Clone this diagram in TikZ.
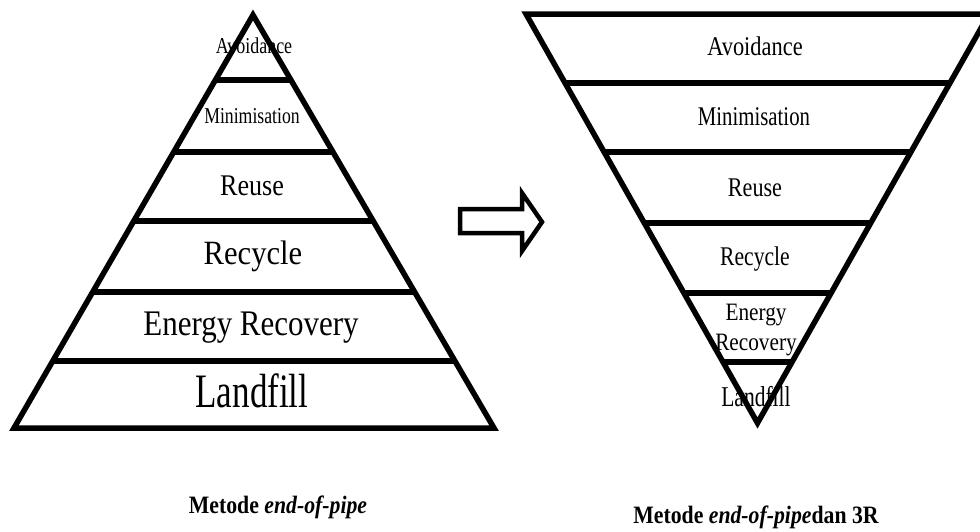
\documentclass[tikz,border=0pt]{standalone}
\usepackage{fontspec}
\setmainfont{Liberation Serif}
\usepackage{graphicx}
\usetikzlibrary{calc}
\newcommand\lbl[3]{\scalebox{#1}[1]{\fontsize{#2}{#2}\selectfont #3}}
\begin{document}
\begin{tikzpicture}[x=1pt,y=-1pt,
  edgeline/.style={line width=5.5pt, line join=miter},
  tierline/.style={line width=5.5pt},
  arrowshape/.style={line width=4.5pt, line join=miter},
  tier/.style={anchor=base, inner sep=0pt},
  capt/.style={anchor=base, inner sep=0pt}]
\useasboundingbox (0,0) rectangle (980,531);
\clip (0,0) rectangle (980,531);

% ---------- left pyramid ----------
\coordinate (LA) at (253,15);
\coordinate (LBL) at (14,428);
\coordinate (LBR) at (494,428);

\node[tier] (lAvoid) at (254,53) {\lbl{0.79}{22.7}{Avoidance}};
\node[tier] (lMin) at (252,123) {\lbl{0.78}{22.7}{Minimisation}};
\node[tier] (lReuse) at (252,195) {\lbl{0.87}{30}{Reuse}};
\node[tier] (lRecycle) at (253,264) {\lbl{0.9}{34}{Recycle}};
\node[tier] (lEnergy) at (251,335) {\lbl{0.86}{36}{Energy Recovery}};
\node[tier] (lLand) at (252,407) {\lbl{0.73}{48}{Landfill}};

\draw[edgeline] (LA) -- (LBL) -- (LBR) -- cycle;
\foreach \t in {0.1574,0.3317,0.4988,0.6707,0.8378}
  \draw[tierline] ($(LA)!\t!(LBL)$) -- ($(LA)!\t!(LBR)$);

% ---------- arrow ----------
\draw[arrowshape] (460,209) coordinate (arA) -- (522,209) -- (522,193) -- (542,222) coordinate (arTip) -- (522,251) -- (522,233) -- (460,233) -- cycle;

% ---------- right inverted triangle ----------
\coordinate (RA) at (757.5,423);
\coordinate (RTL) at (526,14);
\coordinate (RTR) at (989,14);

\node[tier] (rAvoid) at (755,55) {\lbl{0.83}{27}{Avoidance}};
\node[tier] (rMin) at (754,125) {\lbl{0.77}{27}{Minimisation}};
\node[tier] (rReuse) at (755,196) {\lbl{0.82}{27}{Reuse}};
\node[tier] (rRecycle) at (755,265) {\lbl{0.8}{27}{Recycle}};
\node[tier] (rEnergy) at (756,320) {\scalebox{0.85}[1]{\fontsize{25}{30}\selectfont\begin{tabular}[t]{@{}c@{}}Energy\\Recovery\end{tabular}}};
\node[tier] (rLand) at (756,406) {\lbl{0.75}{28.7}{Landfill}};

\draw[edgeline] (RA) -- (RTL) -- (RTR) -- cycle;
\foreach \t in {0.8313,0.6626,0.489,0.3178,0.1491}
  \draw[tierline] ($(RA)!\t!(RTL)$) -- ($(RA)!\t!(RTR)$);

% ---------- captions ----------
\node[capt] (capL) at (278,513) {\scalebox{0.87}[1]{\fontsize{25}{25}\selectfont\bfseries Metode \textit{end-of-pipe}}};
\node[capt] (capR) at (756,523) {\scalebox{0.87}[1]{\fontsize{25}{25}\selectfont\bfseries Metode \textit{end-of-pipe}dan 3R}};
\end{tikzpicture}
\end{document}
